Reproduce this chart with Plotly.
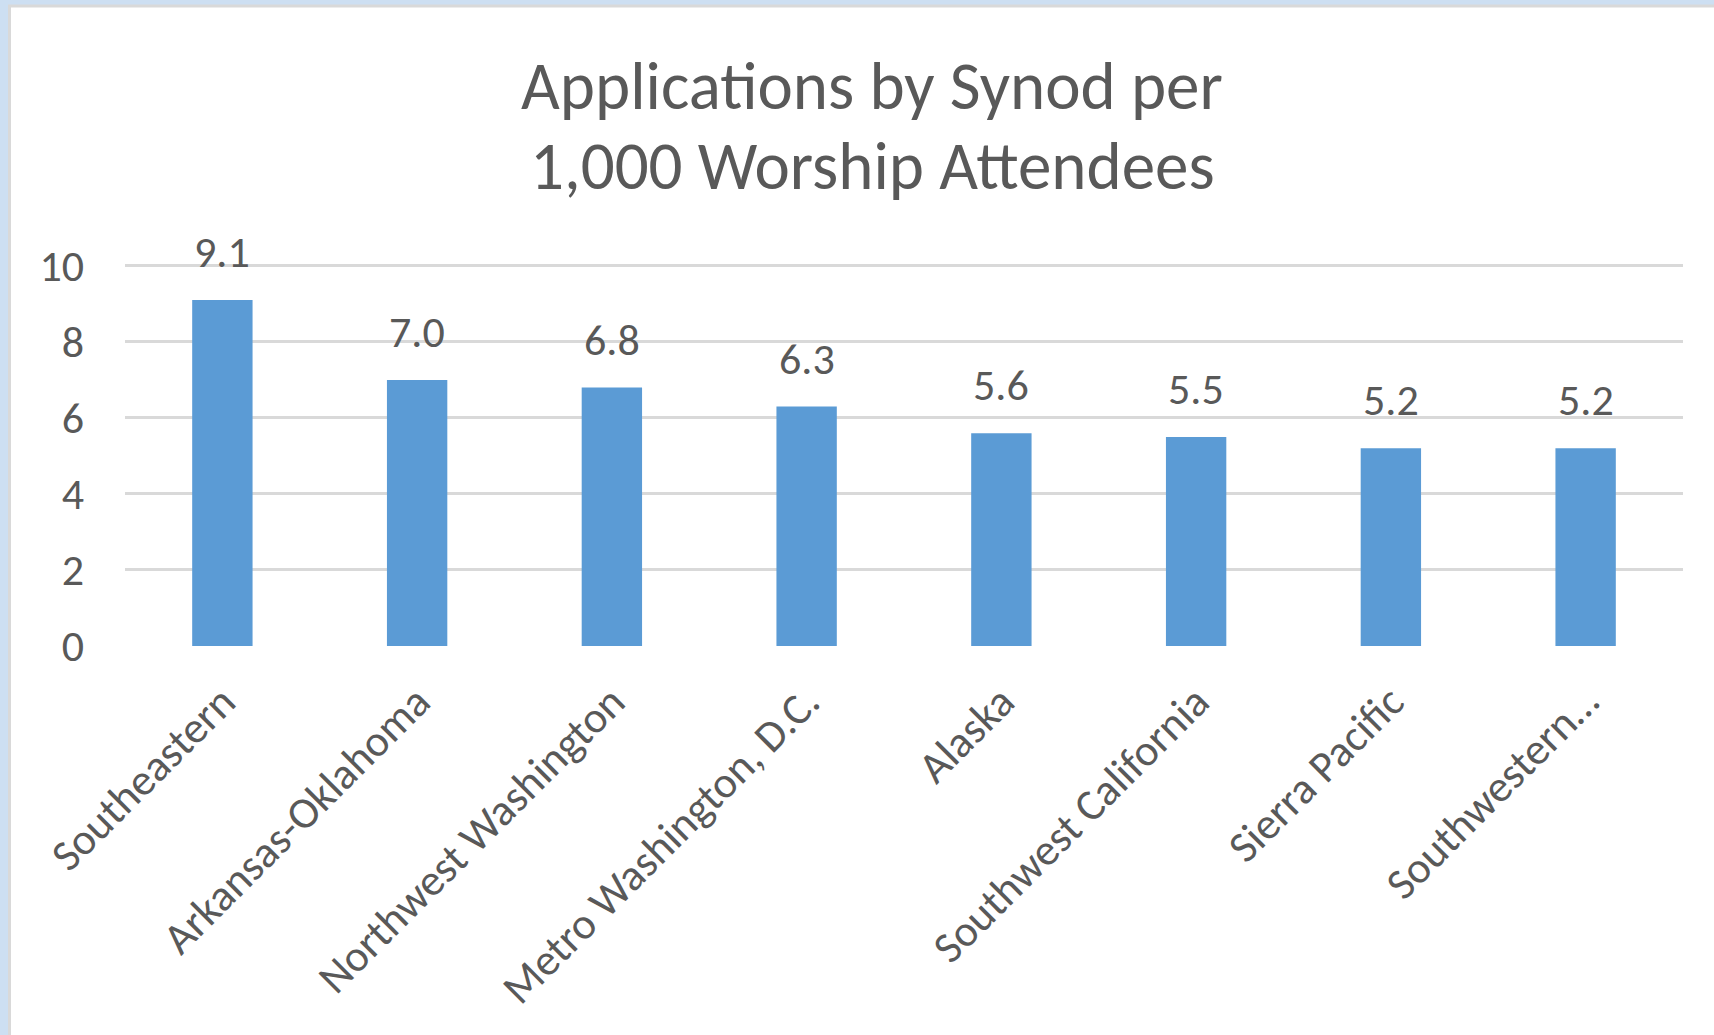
import plotly.graph_objects as go

# Synod rates: applications per 1,000 worship attendees
synods = [
    "Southeastern",
    "Arkansas-Oklahoma",
    "Northwest Washington",
    "Metro Washington, D.C.",
    "Alaska",
    "Southwest California",
    "Sierra Pacific",
    "Southwestern…",
]
rates = [9.1, 7.0, 6.8, 6.3, 5.6, 5.5, 5.2, 5.2]
y_ticks = [0, 2, 4, 6, 8, 10]
title_lines = ["Applications by Synod per", "1,000 Worship Attendees"]

W, H = 1714, 1035
Y_MAX = 10.05
PL, PR, PB = 125, 1683, 645.7          # plot box edges in pixels
PX_PER_UNIT = (645.7 - 265.5) / 10      # value 10 sits at y = 265.5 px
PT = PB - Y_MAX * PX_PER_UNIT

FONT = "Carlito, Lato, sans-serif"
TXT = "#595959"
BAR = "#5b9bd5"
GRID = "#d9d9d9"
OUTER = "#cddff2"
LABEL_SIZE = 44


def fx(px):
    return (px - PL) / (PR - PL)


def fy(py):
    return (PB - py) / (PB - PT)


fig = go.Figure()
fig.add_trace(go.Bar(x=synods, y=rates, marker=dict(color=BAR, line=dict(width=0)),
                     hoverinfo="x+y"))

annotations = []
for name, v in zip(synods, rates):
    annotations.append(dict(x=name, y=v, xref="x", yref="y", text=f"{v:.1f}",
                            showarrow=False, yanchor="bottom", yshift=19,
                            font=dict(family=FONT, size=LABEL_SIZE, color=TXT)))

for text, py in zip(title_lines, [86, 166]):
    annotations.append(dict(x=fx(872), y=fy(py), xref="paper", yref="paper",
                            text=text, showarrow=False, xanchor="center",
                            yanchor="middle",
                            font=dict(family=FONT, size=67, color=TXT)))

shapes = [
    # white chart panel with thin grey frame
    dict(type="rect", xref="paper", yref="paper", layer="below",
         x0=fx(9.5), x1=fx(W + 20), y0=fy(H + 20), y1=fy(5.5),
         fillcolor="white", line=dict(color=GRID, width=3)),
]

fig.update_layout(
    width=W, height=H,
    margin=dict(l=PL, r=W - PR, t=PT, b=H - PB, pad=0),
    paper_bgcolor=OUTER, plot_bgcolor="white",
    showlegend=False,
    bargap=0.69,
    annotations=annotations,
    shapes=shapes,
    font=dict(family=FONT, color=TXT),
)
fig.update_xaxes(showgrid=False, showline=False, zeroline=False, ticks="",
                 tickangle=-45, ticklabelstandoff=20,
                 tickfont=dict(family=FONT, size=LABEL_SIZE, color=TXT),
                 fixedrange=True)
fig.update_yaxes(range=[0, Y_MAX], tickvals=y_ticks, showgrid=True, gridcolor=GRID,
                 gridwidth=2.5, zeroline=False, showline=False, ticks="",
                 ticklabelstandoff=40,
                 tickfont=dict(family=FONT, size=LABEL_SIZE, color=TXT), fixedrange=True)

fig.write_html("out.html", config={"displayModeBar": False})
